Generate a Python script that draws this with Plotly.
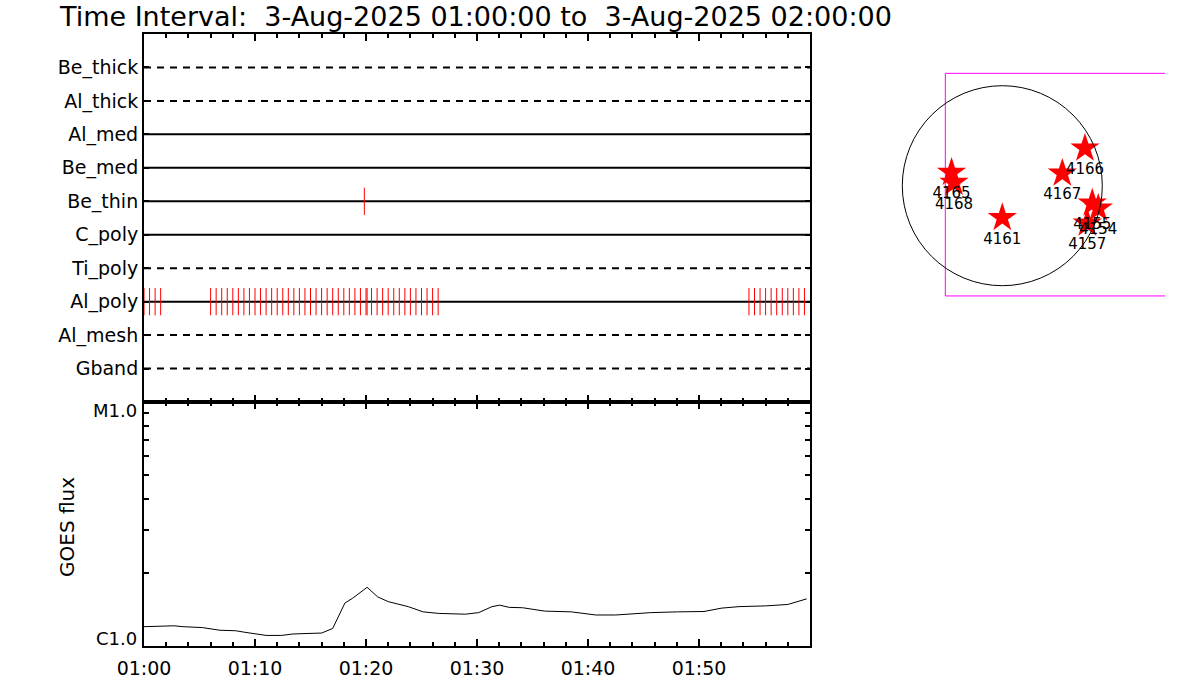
import plotly.graph_objects as go

# ---------------- data ----------------
detectors = ["Be_thick", "Al_thick", "Al_med", "Be_med", "Be_thin",
             "C_poly", "Ti_poly", "Al_poly", "Al_mesh", "Gband"]
dashed_detectors = ["Be_thick", "Al_thick", "Ti_poly", "Al_mesh", "Gband"]

# observation times, minutes after 01:00:00
be_thin_obs = [19.85]
al_poly_obs = [0.0, 0.5, 1.0, 1.5,
               6.0, 6.5, 7.0, 7.5, 8.0, 8.5, 9.0, 9.5, 10.0, 10.5,
               11.0, 11.5, 12.0, 12.5, 13.0, 13.5, 14.0, 14.5, 15.0, 15.5,
               16.0, 16.5, 17.0, 17.5, 18.0, 18.5, 19.0, 19.5, 20.0, 20.1,
               20.5, 21.0, 21.5, 22.0, 22.5, 23.0, 23.5, 24.0, 24.5, 25.0,
               25.5, 26.0, 26.5,
               54.5, 55.0, 55.5, 56.0, 56.5, 57.0, 57.5, 58.0, 58.5, 59.0, 59.5]

# GOES flux (minutes after 01:00, W/m^2)
goes_min = [0, 1.7, 2.7, 3.5, 5.25, 6.85, 8.25, 9.0, 11.0, 12.4, 13.4, 14.6,
            16.0, 17.0, 18.1, 18.8, 20.1, 21.05, 22.0, 23.8, 25.15, 26.55,
            28.95, 30.15, 31.35, 32.05, 32.9, 34.1, 36.1, 38.5, 40.7, 42.5,
            43.7, 45.65, 48.05, 50.45, 52.05, 53.6, 56.0, 58.0, 59.7]
goes_flux = [1.20e-6, 1.21e-6, 1.21e-6, 1.20e-6, 1.19e-6, 1.16e-6, 1.155e-6,
             1.14e-6, 1.105e-6, 1.105e-6, 1.12e-6, 1.125e-6, 1.13e-6, 1.18e-6,
             1.50e-6, 1.57e-6, 1.74e-6, 1.59e-6, 1.52e-6, 1.45e-6, 1.38e-6,
             1.36e-6, 1.35e-6, 1.37e-6, 1.45e-6, 1.47e-6, 1.44e-6, 1.435e-6,
             1.39e-6, 1.38e-6, 1.34e-6, 1.34e-6, 1.35e-6, 1.37e-6, 1.38e-6,
             1.385e-6, 1.43e-6, 1.45e-6, 1.46e-6, 1.48e-6, 1.56e-6]

time_ticks = [0, 10, 20, 30, 40, 50, 60]
time_labels = ["01:00", "01:10", "01:20", "01:30", "01:40", "01:50", ""]

# Active regions (heliocentric arcsec)
ar_names = ["4166", "4167", "4165", "4168", "4161", "4155", "4154", "4157"]
ar_x = [782, 568, -480, -457, 0, 851, 908, 804]
ar_y = [354, 117, 125, 30, -303, -166, -214, -356]
solar_radius = 946
fov_x = [2000, -539, -539, 2000]
fov_y = [1063, 1063, -1043, -1043]

title = "Time Interval:\u00a0\u00a03-Aug-2025 01:00:00 to\u00a0\u00a03-Aug-2025 02:00:00"

# ---------------- figure ----------------
FONT = "DejaVu Sans"
OFF = 0  # page body margin removed by post_script
W, H = 1200, 700
fig = go.Figure()

rows = {name: i + 1 for i, name in enumerate(detectors)}
for name in detectors:
    fig.add_trace(go.Scatter(
        x=[0, 60], y=[rows[name], rows[name]], mode="lines",
        line=dict(color="black", width=2,
                  dash="7px,6px" if name in dashed_detectors else "solid"),
        xaxis="x", yaxis="y", showlegend=False, hoverinfo="skip"))

for times, det in [(be_thin_obs, "Be_thin"), (al_poly_obs, "Al_poly")]:
    fig.add_trace(go.Scatter(
        x=times, y=[rows[det]] * len(times), mode="markers",
        marker=dict(symbol="line-ns", size=19.5,
                    line=dict(color="red", width=1)),
        xaxis="x", yaxis="y", showlegend=False, hoverinfo="skip"))

fig.add_trace(go.Scatter(
    x=goes_min, y=goes_flux, mode="lines",
    line=dict(color="black", width=1),
    xaxis="x2", yaxis="y2", showlegend=False))

# Sun panel
fig.add_trace(go.Scatter(
    x=fov_x, y=fov_y, mode="lines", line=dict(color="#ff00ff", width=1),
    xaxis="x3", yaxis="y3", showlegend=False, hoverinfo="skip"))
fig.add_trace(go.Scatter(
    x=ar_x, y=ar_y, mode="markers+text", text=ar_names,
    textposition="bottom center",
    textfont=dict(family=FONT, size=15, color="black"),
    marker=dict(symbol="star", size=22, color="red", line=dict(width=0)),
    xaxis="x3", yaxis="y3", showlegend=False, cliponaxis=False))

fig.add_shape(type="circle", xref="x3", yref="y3",
              x0=-solar_radius, x1=solar_radius,
              y0=-solar_radius, y1=solar_radius,
              line=dict(color="black", width=1))


def px_x(p):
    return (p - OFF) / W


def px_y(p):
    return 1 - (p - OFF) / H


xdom = [px_x(144), px_x(810)]
common_x = dict(range=[0, 60], domain=xdom, showgrid=False, zeroline=False,
                automargin=False,
                showline=True, linecolor="black", linewidth=2, mirror="ticks",
                ticks="inside", tickvals=time_ticks, ticklen=7, tickwidth=2,
                tickcolor="black",
                minor=dict(dtick=2, tick0=0, ticks="inside", ticklen=4,
                           tickwidth=1.5, tickcolor="black"))

fig.update_layout(
    width=W, height=H, autosize=False,
    margin=dict(l=0, r=0, t=0, b=0, autoexpand=False),
    paper_bgcolor="white", plot_bgcolor="white",
    font=dict(family=FONT, color="black"),
    xaxis=dict(**common_x, anchor="y", showticklabels=False),
    yaxis=dict(domain=[px_y(402), px_y(34)], range=[11, 0],
               tickvals=[rows[d] for d in detectors], ticktext=detectors,
               ticks="inside", ticklen=5, tickwidth=2, tickcolor="black",
               showline=True, linecolor="black", linewidth=2, mirror="ticks",
               showgrid=False, zeroline=False, anchor="x", automargin=False,
               tickfont=dict(family=FONT, size=19, color="black"),
               ticklabelstandoff=0),
    xaxis2=dict(**common_x, anchor="y2", ticktext=time_labels,
                tickfont=dict(family=FONT, size=19, color="black"),
                ticklabelstandoff=4),
    yaxis2=dict(domain=[px_y(646), px_y(402)], type="log", range=[-6, -5],
                tickvals=[1e-6, 1e-5], showticklabels=False,
                ticks="inside", ticklen=8, tickwidth=2, tickcolor="black",
                minor=dict(tickvals=[2e-6, 3e-6, 4e-6, 5e-6, 6e-6, 7e-6,
                                     8e-6, 9e-6],
                           ticks="inside", ticklen=5, tickwidth=1.5,
                           tickcolor="black"),
                showline=True, linecolor="black", linewidth=2, mirror="ticks",
                showgrid=False, zeroline=False, anchor="x2", automargin=False),
    xaxis3=dict(domain=[px_x(880), px_x(1165)],
                range=[(880 - 1002.3) * 9.46, (1165 - 1002.3) * 9.46],
                visible=False, anchor="y3", automargin=False),
    yaxis3=dict(domain=[px_y(310), px_y(60)],
                range=[(185.7 - 310) * 9.46, (185.7 - 60) * 9.46],
                visible=False, anchor="x3", automargin=False),
)

annotations = [
    dict(text=title, x=px_x(57), y=px_y(17), xref="paper", yref="paper",
         xanchor="left", yanchor="middle", showarrow=False,
         font=dict(family=FONT, size=27, color="black")),
    dict(text="M1.0", x=px_x(139), y=px_y(410), xref="paper", yref="paper",
         xanchor="right", yanchor="middle", showarrow=False,
         font=dict(family=FONT, size=18, color="black")),
    dict(text="C1.0", x=px_x(139), y=px_y(638), xref="paper", yref="paper",
         xanchor="right", yanchor="middle", showarrow=False,
         font=dict(family=FONT, size=18, color="black")),
    dict(text="GOES flux", x=px_x(67), y=px_y(527), xref="paper", yref="paper",
         xanchor="center", yanchor="middle", showarrow=False, textangle=-90,
         font=dict(family=FONT, size=20, color="black")),
]
fig.update_layout(annotations=annotations)

fig.write_html(
    "out.html",
    config={"displayModeBar": False},
    post_script="document.body.style.margin='0';"
                "document.body.style.overflow='hidden';")
